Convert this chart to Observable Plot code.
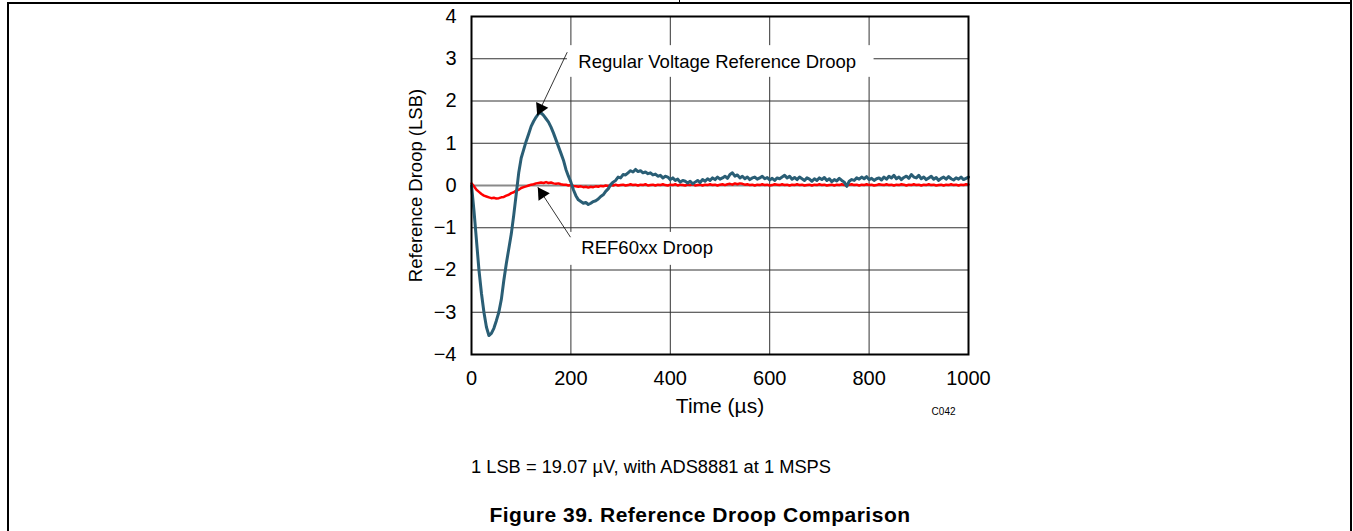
<!DOCTYPE html>
<html><head><meta charset="utf-8">
<script src="https://cdn.jsdelivr.net/npm/d3@7"></script>
<script src="https://cdn.jsdelivr.net/npm/@observablehq/plot@0.6"></script>
<style>
html,body{margin:0;padding:0;background:#fff;}
#page{position:relative;width:1353px;height:531px;overflow:hidden;font-family:"Liberation Sans",Arial,sans-serif;color:#000;background:#fff;}
#chart{position:absolute;left:0;top:0;}
.ln{position:absolute;background:#000;}
.cap{position:absolute;white-space:nowrap;transform:translateX(-50%);font-size:18.3px;line-height:1;}
</style></head><body>
<div id="page">
  <div id="chart"></div>
  <div class="cap" style="left:651px;top:458px">1 LSB = 19.07 µV, with ADS8881 at 1 MSPS</div>
  <div class="cap" style="left:700px;top:504px;font-weight:bold;font-size:21px;letter-spacing:0.5px">Figure 39. Reference Droop Comparison</div>
  <div class="ln" style="left:7px;top:2px;width:1345px;height:1.5px"></div>
  <div class="ln" style="left:7px;top:2px;width:1.5px;height:529px"></div>
  <div class="ln" style="left:1350px;top:0px;width:1.5px;height:531px"></div>
  <div class="ln" style="left:679px;top:0px;width:1px;height:3px"></div>
</div>
<script>
// ---- data ----
const xTicks = [0, 200, 400, 600, 800, 1000];
const yTicks = [-4, -3, -2, -1, 0, 1, 2, 3, 4];
const gridXVals = [200, 400, 600, 800];
const gridYVals = [-3, -2, -1, 1, 2, 3];
const zeroLine = [0];

const timeUs = d3.range(0, 1001, 5); // sample times, µs

// Regular voltage reference droop (LSB), every 5 µs
const regularDroop = [
  0.0,-0.6,-1.3,-2.0,-2.55,-3.0,-3.35,-3.55,-3.5,-3.38,-3.2,-3.0,-2.7,-2.25,-1.85,-1.5,-1.15,-0.7,-0.2,0.3,
  0.65,0.85,1.05,1.22,1.4,1.52,1.62,1.7,1.72,1.66,1.58,1.5,1.38,1.24,1.08,0.92,0.76,0.6,0.38,0.22,
  0.08,-0.1,-0.24,-0.34,-0.38,-0.42,-0.4,-0.45,-0.42,-0.38,-0.36,-0.32,-0.26,-0.22,-0.14,-0.08,0.02,0.08,0.12,0.2,
  0.18,0.26,0.25,0.3,0.35,0.32,0.38,0.33,0.35,0.3,0.32,0.28,0.3,0.25,0.27,0.22,0.24,0.18,0.22,0.2,
  0.14,0.18,0.12,0.15,0.08,0.12,0.1,0.06,0.1,0.04,0.08,0.12,0.07,0.14,0.1,0.16,0.12,0.18,0.14,0.2,
  0.15,0.18,0.22,0.17,0.26,0.3,0.22,0.25,0.18,0.22,0.16,0.2,0.14,0.18,0.2,0.15,0.18,0.22,0.16,0.19,
  0.13,0.17,0.12,0.18,0.16,0.2,0.24,0.18,0.22,0.15,0.19,0.14,0.2,0.16,0.12,0.18,0.15,0.1,0.16,0.12,
  0.18,0.14,0.19,0.12,0.16,0.09,0.14,0.11,0.17,0.12,0.08,-0.02,0.1,0.14,0.12,0.18,0.15,0.2,0.16,0.21,
  0.14,0.17,0.12,0.16,0.18,0.13,0.2,0.15,0.22,0.18,0.24,0.16,0.2,0.14,0.19,0.22,0.17,0.26,0.2,0.18,
  0.24,0.16,0.2,0.14,0.18,0.22,0.15,0.19,0.12,0.17,0.2,0.15,0.21,0.16,0.13,0.18,0.15,0.2,0.14,0.17,
  0.2
];

// REF60xx droop (LSB), every 5 µs
const ref60xxDroop = [
  0.05,-0.02,-0.1,-0.15,-0.2,-0.24,-0.26,-0.28,-0.3,-0.29,-0.31,-0.3,-0.28,-0.27,-0.24,-0.22,-0.18,-0.16,-0.12,-0.1,
  -0.06,-0.04,-0.02,0.0,0.02,0.03,0.05,0.06,0.07,0.06,0.08,0.06,0.07,0.05,0.04,0.05,0.03,0.02,0.02,0.0,
  0.01,-0.01,-0.02,-0.03,-0.02,-0.04,-0.03,-0.05,-0.03,-0.04,-0.02,-0.03,-0.01,-0.02,0.0,-0.01,0.01,0.0,0.02,0.0,
  0.01,0.02,0.0,0.01,0.03,0.01,0.02,0.0,0.02,0.01,0.03,0.0,0.01,0.02,0.0,0.02,0.01,0.03,0.01,0.0,
  0.02,0.01,0.03,0.0,0.02,0.01,0.0,0.02,0.01,0.03,0.0,0.01,0.02,0.0,0.02,0.01,0.03,0.01,0.02,0.0,
  0.02,0.03,0.01,0.03,0.04,0.02,0.05,0.03,0.05,0.04,0.02,0.03,0.01,0.02,0.0,0.02,0.01,0.03,0.01,0.02,
  0.0,0.01,0.03,0.02,0.01,0.03,0.01,0.02,0.0,0.02,0.01,0.03,0.01,0.02,0.0,0.01,0.02,0.0,0.02,0.01,
  0.03,0.01,0.02,0.0,0.01,0.02,0.0,0.02,0.01,0.03,0.01,0.0,0.02,0.03,0.01,0.02,0.0,0.02,0.01,0.03,
  0.01,0.02,0.0,0.01,0.03,0.02,0.01,0.03,0.01,0.02,0.0,0.02,0.01,0.03,0.02,0.0,0.02,0.01,0.03,0.01,
  0.02,0.0,0.02,0.01,0.03,0.01,0.02,0.0,0.01,0.02,0.0,0.02,0.01,0.03,0.01,0.02,0.0,0.02,0.01,0.03,
  0.02
];

// annotations (data units)
const labelTexts = ["Regular Voltage Reference Droop", "REF60xx Droop"];
const labelX = [215, 221];
const labelY = [2.91, -1.49];
const boxX1 = [193, 198];
const boxX2 = [810, 505];
const boxY1 = [2.56, -1.89];
const boxY2 = [3.31, -1.11];
const arrowFromX = [192.6, 199.2];
const arrowFromY = [3.155, -1.224];
const arrowToX = [132.2, 133.4];
const arrowToY = [1.657, -0.04];

// ---- build ----
const W = 1353, H = 425, mL = 471, mR = 385, mT = 16, mB = 71;
const regData = timeUs.map((t, i) => ({t, v: regularDroop[i]}));
const refData = timeUs.map((t, i) => ({t, v: ref60xxDroop[i]}));
const boxes = boxX1.map((d, i) => ({x1: boxX1[i], x2: boxX2[i], y1: boxY1[i], y2: boxY2[i]}));
const labels = labelTexts.map((s, i) => ({text: s, x: labelX[i], y: labelY[i]}));
const arrows = arrowFromX.map((d, i) => ({x1: arrowFromX[i], y1: arrowFromY[i], x2: arrowToX[i], y2: arrowToY[i]}));

// pixel direction of each arrow, computed with scales matching the plot
const sx = d3.scaleLinear([0, 1000], [mL, W - mR]);
const sy = d3.scaleLinear([-4, 4], [H - mB, mT]);
const headR = 5;
const headBack = headR * 1.555;
const heads = arrows.map(a => {
  const dx = sx(a.x2) - sx(a.x1), dy = sy(a.y2) - sy(a.y1);
  const len = Math.hypot(dx, dy);
  const ux = dx / len, uy = dy / len;
  const rot = Math.atan2(ux, -uy) * 180 / Math.PI;
  return Plot.dot([a], {x: "x2", y: "y2", symbol: "triangle", r: headR, fill: "#000", stroke: "none",
    rotate: rot, dx: -ux * headBack, dy: -uy * headBack});
});

const chart = Plot.plot({
  width: W, height: H,
  marginLeft: mL, marginRight: mR, marginTop: mT, marginBottom: mB,
  style: {fontFamily: "'Liberation Sans', Arial, sans-serif", fontSize: "18.5px", color: "#000", background: "transparent", overflow: "visible"},
  x: {domain: [0, 1000], ticks: xTicks, tickSize: 0, tickPadding: 16, label: null, tickFormat: d3.format("d")},
  y: {domain: [-4, 4], ticks: yTicks, tickSize: 0, tickPadding: 15, label: null},
  marks: [
    Plot.ruleX(gridXVals, {stroke: "#333", strokeWidth: 1}),
    Plot.ruleY(gridYVals, {stroke: "#333", strokeWidth: 1}),
    Plot.ruleY(zeroLine, {stroke: "#8a8a8a", strokeWidth: 2}),
    Plot.rect(boxes, {x1: "x1", x2: "x2", y1: "y1", y2: "y2", fill: "white"}),
    Plot.line(refData, {x: "t", y: "v", stroke: "#ff0000", strokeWidth: 2.5}),
    Plot.line(regData, {x: "t", y: "v", stroke: "#2a5e75", strokeWidth: 3}),
    Plot.link(arrows, {x1: "x1", y1: "y1", x2: "x2", y2: "y2", stroke: "#000", strokeWidth: 0.8}),
    ...heads,
    Plot.text(labels, {x: "x", y: "y", text: "text", textAnchor: "start", fill: "#000"}),
    Plot.frame({stroke: "#000", strokeWidth: 2}),
    Plot.text(["Time (µs)"], {text: d => d, frameAnchor: "bottom", textAnchor: "middle", dy: 58, fontSize: 21, fill: "#000"}),
    Plot.text(["Reference Droop (LSB)"], {text: d => d, frameAnchor: "left", textAnchor: "middle", rotate: -90, dx: -55, fill: "#000"}),
    Plot.text(["C042"], {text: d => d, frameAnchor: "bottom-right", dx: -13, dy: 60, textAnchor: "end", fontSize: 10, fill: "#000"})
  ]
});
// tick labels slightly larger than the annotations
chart.querySelectorAll('g[aria-label="x-axis tick label"], g[aria-label="y-axis tick label"]').forEach(g => g.setAttribute("font-size", "20"));
document.getElementById("chart").appendChild(chart);
</script>
</body></html>
